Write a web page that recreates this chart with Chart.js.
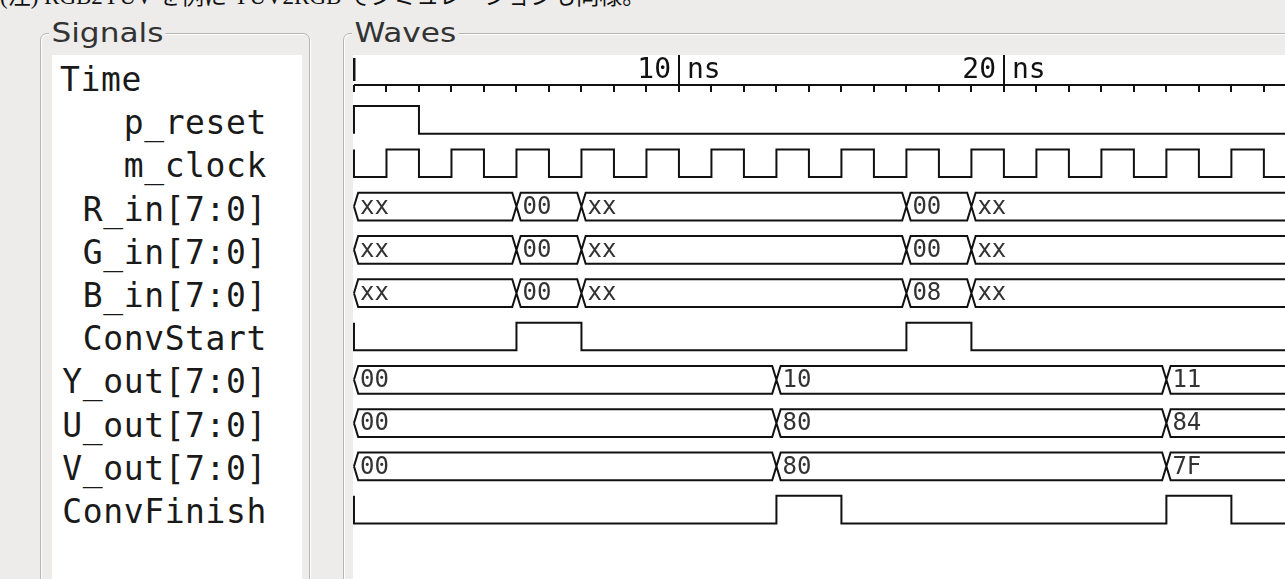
<!DOCTYPE html>
<html>
<head>
<meta charset="utf-8">
<script src="https://cdn.jsdelivr.net/npm/chart.js@4.4.1/dist/chart.umd.min.js"></script>
<style>
  body { margin: 0; width: 1285px; height: 579px; overflow: hidden; position: relative; background: #edeceb; }
  #note { position: absolute; left: 0; top: -15px; font: 23px "Liberation Serif", "Noto Sans CJK JP", serif; white-space: nowrap; color: #111; line-height: 24px; }
  .frame { position: absolute; top: 33px; height: 620px; border: 1px solid #b6b5b3; border-radius: 7px; box-shadow: inset 1px 1px 0 #fff, 1px 1px 0 #fff; }
  #sigFrame { left: 40px; width: 268px; }
  #waveFrame { left: 343px; width: 1100px; }
  .caption { position: absolute; top: -16px; left: 8px; padding: 0 2px; background: #edeceb; font: 26px "DejaVu Sans", sans-serif; line-height: 30px; color: #333; transform: scaleX(1.2); transform-origin: left center; }
  #sigList { position: absolute; left: 52px; top: 55px; width: 250px; height: 540px; background: #fff; }
  .sig { position: absolute; left: 8px; width: 207px; text-align: right; font: 33px "DejaVu Sans Mono", monospace; letter-spacing: 0.6px; line-height: 43.2px; white-space: pre; color: #1a1a1a; }
  #waveCanvas { position: absolute; left: 353px; top: 55px; background: #fff; }
</style>
</head>
<body>
<div id="note">(注) RGB2YUV を例に YUV2RGB でシミュレーションも同様。</div>
<div class="frame" id="sigFrame"><span class="caption">Signals</span></div>
<div class="frame" id="waveFrame"><span class="caption">Waves</span></div>
<div id="sigList"></div>
<canvas id="waveCanvas" width="932" height="524"></canvas>
<script>
// signal names shown in the left pane (first entry is the time ruler)
const signalNames = ["Time", "p_reset", "m_clock", "R_in[7:0]", "G_in[7:0]", "B_in[7:0]",
  "ConvStart", "Y_out[7:0]", "U_out[7:0]", "V_out[7:0]", "ConvFinish"];

// single-bit signals: change times (ns) and the level from that time on
const pResetTimes = [0, 2];
const pResetLevels = [1, 0];
const mClockTimes = [0, 1, 2, 3, 4, 5, 6, 7, 8, 9, 10, 11, 12, 13, 14, 15, 16, 17, 18, 19, 20, 21, 22, 23, 24, 25, 26, 27, 28];
const mClockLevels = [0, 1, 0, 1, 0, 1, 0, 1, 0, 1, 0, 1, 0, 1, 0, 1, 0, 1, 0, 1, 0, 1, 0, 1, 0, 1, 0, 1, 0];
const convStartTimes = [0, 5, 7, 17, 19];
const convStartLevels = [0, 1, 0, 1, 0];
const convFinishTimes = [0, 13, 15, 25, 27];
const convFinishLevels = [0, 1, 0, 1, 0];

// buses: change times (ns) and the hex value from that time on
const inTimes = [0, 5, 7, 17, 19];
const rInValues = ["xx", "00", "xx", "00", "xx"];
const gInValues = ["xx", "00", "xx", "00", "xx"];
const bInValues = ["xx", "00", "xx", "08", "xx"];
const outTimes = [0, 13, 25];
const yOutValues = ["00", "10", "11"];
const uOutValues = ["00", "80", "84"];
const vOutValues = ["00", "80", "7F"];

// time ruler
const rulerLabels = [10, 20];
const rulerStep = 1;

const tEnd = 30;      // last segment runs past the right edge
const levelH = 0.64;  // high-to-low height of a row, in row units
const edge = 0.13;    // half width of a bus crossing, ns

// left pane text
const list = document.getElementById("sigList");
signalNames.forEach((name, i) => {
  const d = document.createElement("div");
  d.className = "sig";
  d.textContent = name;
  d.style.top = (3 + i * 43.2) + "px";
  if (i === 0) d.style.textAlign = "left";
  list.appendChild(d);
});

function digitalPoints(row, times, levels) {
  const lvl = (v) => row + (v ? 0 : levelH);
  const pts = [{ x: times[0], y: lvl(1 - levels[0]) }];
  times.forEach((t, i) => pts.push({ x: t, y: lvl(levels[i]) }));
  pts.push({ x: tEnd, y: lvl(levels[levels.length - 1]) });
  return pts;
}

function busPoints(row, times) {
  const top = row, bot = row + levelH, mid = row + levelH / 2;
  const pts = [];
  times.forEach((t0, i) => {
    const t1 = i + 1 < times.length ? times[i + 1] : tEnd;
    pts.push({ x: t0, y: mid }, { x: t0 + edge, y: top }, { x: t1 - edge, y: top },
      { x: t1, y: mid }, { x: t1 - edge, y: bot }, { x: t0 + edge, y: bot },
      { x: t0, y: mid }, { x: t1, y: null });
  });
  return pts;
}

const digital = [
  { row: 0, times: pResetTimes, levels: pResetLevels },
  { row: 1, times: mClockTimes, levels: mClockLevels },
  { row: 5, times: convStartTimes, levels: convStartLevels },
  { row: 9, times: convFinishTimes, levels: convFinishLevels },
];
const buses = [
  { row: 2, times: inTimes, values: rInValues },
  { row: 3, times: inTimes, values: gInValues },
  { row: 4, times: inTimes, values: bInValues },
  { row: 6, times: outTimes, values: yOutValues },
  { row: 7, times: outTimes, values: uOutValues },
  { row: 8, times: outTimes, values: vOutValues },
];

const datasets = [];
digital.forEach((s) => datasets.push({ data: digitalPoints(s.row, s.times, s.levels), stepped: true }));
buses.forEach((s) => datasets.push({ data: busPoints(s.row, s.times) }));

// ruler on top and the values written inside the buses
const waveText = {
  id: "waveText",
  afterDatasetsDraw(chart) {
    const { ctx, chartArea } = chart;
    const x = chart.scales.x, y = chart.scales.y;
    const top = chartArea.top;
    ctx.save();
    ctx.strokeStyle = "#111";
    ctx.lineWidth = 2;
    const x0 = x.getPixelForValue(0);
    ctx.beginPath();
    ctx.moveTo(x0, top + 30);
    ctx.lineTo(chartArea.right, top + 30);
    for (let t = 0; t <= x.max; t += rulerStep) {
      const px = Math.round(x.getPixelForValue(t));
      ctx.moveTo(px, top + 30);
      ctx.lineTo(px, top + 37);
    }
    ctx.stroke();
    ctx.lineWidth = 3;
    ctx.beginPath();
    ctx.moveTo(x0, top + 3);
    ctx.lineTo(x0, top + 26);
    ctx.stroke();
    ctx.lineWidth = 2;
    ctx.font = '28px "DejaVu Sans Mono"';
    ctx.fillStyle = "#111";
    ctx.textBaseline = "alphabetic";
    rulerLabels.forEach((t) => {
      const px = Math.round(x.getPixelForValue(t));
      ctx.beginPath();
      ctx.moveTo(px, top);
      ctx.lineTo(px, top + 37);
      ctx.stroke();
      ctx.textAlign = "right";
      ctx.fillText(String(t), px - 8, top + 23);
      ctx.textAlign = "left";
      ctx.fillText("ns", px + 8, top + 23);
    });
    ctx.font = '24px "DejaVu Sans Mono"';
    ctx.fillStyle = "#333";
    ctx.textAlign = "left";
    ctx.textBaseline = "middle";
    buses.forEach((s) => {
      const py = y.getPixelForValue(s.row + levelH / 2) + 1;
      s.times.forEach((t, i) => {
        ctx.fillText(s.values[i], x.getPixelForValue(t) + 6, py);
      });
    });
    ctx.restore();
  },
};

new Chart(document.getElementById("waveCanvas").getContext("2d"), {
  type: "line",
  data: { datasets },
  options: {
    responsive: false,
    animation: false,
    events: [],
    layout: { padding: 0 },
    elements: {
      point: { radius: 0 },
      line: { borderWidth: 2, borderColor: "#111", tension: 0, fill: false },
    },
    scales: {
      x: { type: "linear", min: -0.03, max: 28.65, display: false },
      y: { type: "linear", min: -1.18, max: 10.92, reverse: true, display: false },
    },
    plugins: { legend: { display: false }, tooltip: { enabled: false } },
  },
  plugins: [waveText],
});
</script>
</body>
</html>
